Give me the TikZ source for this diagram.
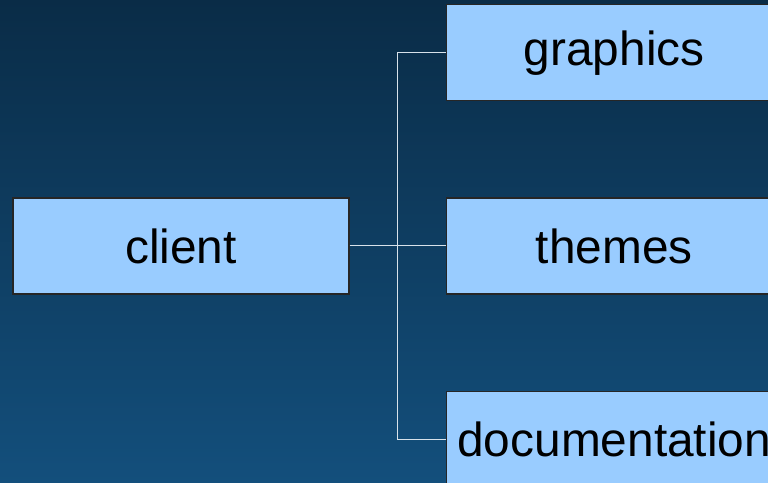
\documentclass[tikz,border=0pt]{standalone}
\usepackage{fontspec}
\setmainfont{Liberation Sans}
\usepackage{tikz}
\usetikzlibrary{positioning}
\usetikzlibrary{calc}

\definecolor{bgtop}{HTML}{0A2C47}
\definecolor{bgbottom}{HTML}{134F7C}
\definecolor{boxfill}{HTML}{99CCFF}
\definecolor{wire}{HTML}{D8E2EA}

\begin{document}
\begin{tikzpicture}[%
  x=1bp, y=1bp, node distance=96bp,
  module/.style={rectangle, fill=boxfill, draw=black!85, line width=1.2bp,
    minimum width=336bp, minimum height=96bp, inner sep=0pt,
    font=\fontsize{48}{57}\selectfont},
  link/.style={draw=wire, line width=1bp}
  ]
  % Background
  \useasboundingbox (0,0) rectangle (768,-483);
  \clip (0,0) rectangle (768,-483);
  \fill[top color=bgtop, bottom color=bgbottom] (0,0) rectangle (768,-483);

  % Draw the modules
  \node[module] (client) at (181,-246) {client};
  \node[module, right=of client] (themes) {themes};
  \node[module, above=of themes] (graphics) {graphics};
  \node[module, below=of themes] (documentation) {documentation};

  % Connect the client with every module
  \coordinate (split) at ($(client.east)!0.5!(themes.west)$);
  \draw[link] (client.east) -- (themes.west);
  \draw[link] (graphics.west) -| (split) |- (documentation.west);
\end{tikzpicture}
\end{document}
